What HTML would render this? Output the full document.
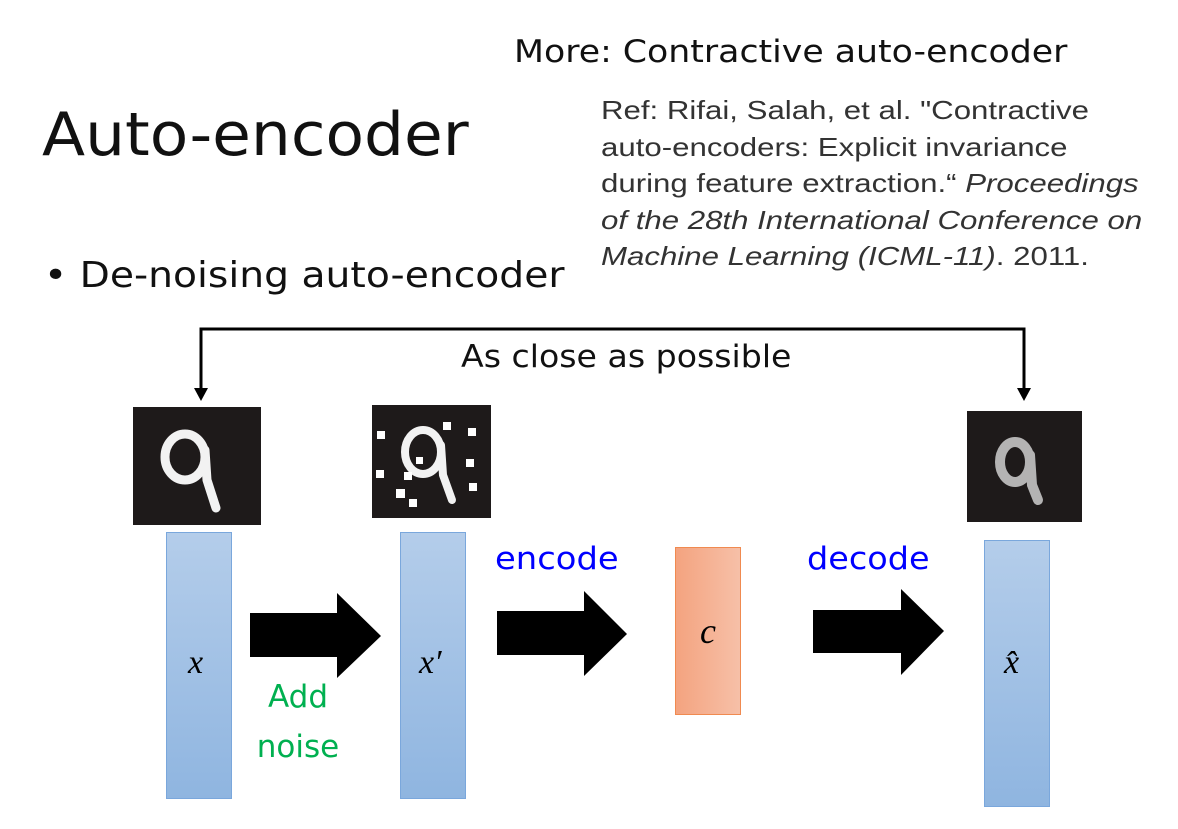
<!DOCTYPE html>
<html><head><meta charset="utf-8"><style>
html,body{margin:0;padding:0;background:#fff;}
body{width:1178px;height:829px;position:relative;overflow:hidden;font-family:"DejaVu Sans","Liberation Sans",sans-serif;}
.t{position:absolute;white-space:nowrap;transform-origin:0 50%;}
</style></head><body>
<svg width="1178" height="829" style="position:absolute;left:0;top:0">
<defs>
<linearGradient id="bl" x1="0" y1="0" x2="0" y2="1"><stop offset="0" stop-color="#b4cdea"/><stop offset="1" stop-color="#8fb5e0"/></linearGradient>
<linearGradient id="or" x1="0" y1="0" x2="1" y2="0"><stop offset="0" stop-color="#f4a37f"/><stop offset="1" stop-color="#f6c0a8"/></linearGradient>
</defs>
<polyline points="201,395 201,329 1024,329 1024,395" fill="none" stroke="#000" stroke-width="3"/>
<polygon points="194,388 208,388 201,401" fill="#000"/>
<polygon points="1017,388 1031,388 1024,401" fill="#000"/>
<rect x="133" y="407" width="128" height="118" fill="#1e1a1a"/>
<g fill="none" stroke="#f2f2f2" stroke-width="9" stroke-linecap="round">
<ellipse cx="185" cy="457" rx="20" ry="23"/>
<path d="M205,450 L207,480 L216,508"/>
</g>
<rect x="372" y="405" width="119" height="113" fill="#1e1a1a"/>
<g fill="none" stroke="#f2f2f2" stroke-width="8" stroke-linecap="round">
<ellipse cx="423" cy="452" rx="18" ry="22"/>
<path d="M441,445 L443,475 L452,500"/>
</g>
<g fill="#fff">
<rect x="377" y="431" width="8" height="8"/><rect x="443" y="422" width="8" height="8"/><rect x="468" y="428" width="8" height="8"/>
<rect x="466" y="459" width="8" height="8"/><rect x="376" y="470" width="8" height="8"/><rect x="404" y="472" width="8" height="8"/>
<rect x="416" y="457" width="7" height="7"/><rect x="469" y="483" width="8" height="8"/><rect x="396" y="489" width="9" height="9"/><rect x="409" y="499" width="8" height="8"/>
</g>
<rect x="967" y="411" width="115" height="111" fill="#1e1a1a"/>
<g fill="none" stroke="#e6e6e6" stroke-width="10" stroke-linecap="round" opacity="0.75">
<ellipse cx="1015" cy="462" rx="15" ry="20"/>
<path d="M1030,455 L1032,485 L1038,500"/>
</g>
<rect x="166.5" y="532.5" width="65" height="266" fill="url(#bl)" stroke="#7aa7dc"/>
<rect x="400.5" y="532.5" width="65" height="266" fill="url(#bl)" stroke="#7aa7dc"/>
<rect x="675.5" y="547.5" width="65" height="167" fill="url(#or)" stroke="#f08a50"/>
<rect x="984.5" y="540.5" width="65" height="266" fill="url(#bl)" stroke="#7aa7dc"/>
<polygon points="250,613 337,613 337,593 381,636 337,678 337,657 250,657" fill="#000"/>
<polygon points="497,611 584,611 584,591 627,634 584,676 584,655 497,655" fill="#000"/>
<polygon points="813,610 901,610 901,589 944,631 901,675 901,653 813,653" fill="#000"/>
</svg>
<div class="t" style="left:42px;top:100px;font-size:60px;color:#111;transform:scaleX(1.05);">Auto-encoder</div>
<div class="t" style="left:514px;top:34px;font-size:31px;color:#111;transform:scaleX(1.12);">More: Contractive auto-encoder</div>
<div class="t" style="left:601px;top:92px;font-family:'Liberation Sans',sans-serif;font-size:26px;line-height:36.5px;color:#333;transform:scaleX(1.2);transform-origin:0 0;">Ref: Rifai, Salah, et al. "Contractive<br>auto-encoders: Explicit invariance<br>during feature extraction.“ <i>Proceedings</i><br><i>of the 28th International Conference on</i><br><i>Machine Learning (ICML-11)</i>. 2011.</div>
<div class="t" style="left:44px;top:255px;font-size:36px;color:#111;transform:scaleX(1.09);">• De-noising auto-encoder</div>
<div class="t" style="left:461px;top:339px;font-size:31px;color:#111;transform:scaleX(1.07);">As close as possible</div>
<div class="t" style="left:495px;top:541px;font-size:31px;color:#0000ff;transform:scaleX(1.09);">encode</div>
<div class="t" style="left:807px;top:541px;font-size:31px;color:#0000ff;transform:scaleX(1.08);">decode</div>
<div class="t" style="left:252px;top:672px;width:92px;font-size:31px;line-height:50px;color:#00b050;text-align:center;">Add<br>noise</div>
<div class="t" style="left:188px;top:644px;font-size:34px;font-style:italic;font-family:'Liberation Serif',serif;">x</div>
<div class="t" style="left:419px;top:644px;font-size:34px;font-style:italic;font-family:'Liberation Serif',serif;">x′</div>
<div class="t" style="left:700px;top:610px;font-size:36px;font-style:italic;font-family:'Liberation Serif',serif;">c</div>
<div class="t" style="left:1004px;top:644px;font-size:34px;font-style:italic;font-family:'Liberation Serif',serif;">x̂</div>
</body></html>
